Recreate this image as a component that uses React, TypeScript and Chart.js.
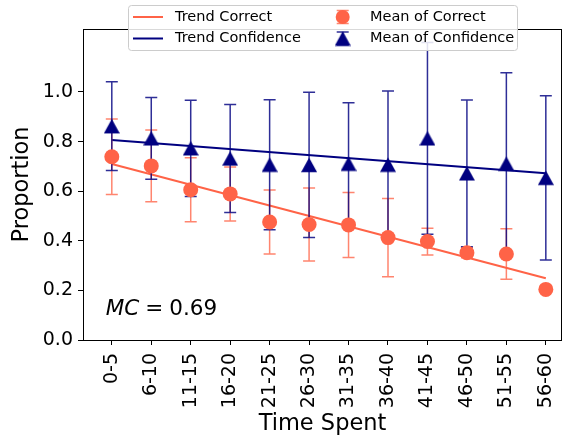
import React, { useEffect, useRef } from 'react';
import { Chart, registerables } from 'chart.js';

Chart.register(...registerables);

const categories = ['0-5', '6-10', '11-15', '16-20', '21-25', '26-30', '31-35', '36-40', '41-45', '46-50', '51-55', '56-60'];
const correctMean = [0.739, 0.702, 0.606, 0.589, 0.476, 0.466, 0.464, 0.413, 0.397, 0.352, 0.347, 0.204];
const correctStd = [0.152, 0.145, 0.129, 0.109, 0.129, 0.147, 0.131, 0.158, 0.054, 0.02, 0.102, 0];
const confidenceMean = [0.862, 0.813, 0.773, 0.732, 0.707, 0.706, 0.711, 0.707, 0.813, 0.672, 0.711, 0.654];
const confidenceStd = [0.179, 0.165, 0.194, 0.218, 0.262, 0.293, 0.246, 0.297, 0.387, 0.296, 0.367, 0.331];
const trendCorrectEnds = [0.71, 0.249];
const trendConfidenceEnds = [0.806, 0.672];
const yTicks = [0, 0.2, 0.4, 0.6, 0.8, 1.0];
const mcName = 'MC';
const mcValue = '0.69';

const TOMATO = '#ff6347';
const NAVY = '#000080';
const TOMATO_BAR = 'rgba(255,99,71,0.78)';
const NAVY_BAR = 'rgba(0,0,128,0.82)';
const FONT = "'DejaVu Sans', sans-serif";

function makeTriangle(): HTMLCanvasElement {
  const c = document.createElement('canvas');
  c.width = 16;
  c.height = 16;
  const ctx = c.getContext('2d')!;
  ctx.fillStyle = NAVY;
  ctx.beginPath();
  ctx.moveTo(8, 0.75);
  ctx.lineTo(16, 15.25);
  ctx.lineTo(0, 15.25);
  ctx.closePath();
  ctx.fill();
  return c;
}

function drawErrBar(ctx: CanvasRenderingContext2D, px: number, top: number, bot: number, cap: number) {
  ctx.beginPath();
  ctx.moveTo(px, top);
  ctx.lineTo(px, bot);
  ctx.moveTo(px - cap, top);
  ctx.lineTo(px + cap, top);
  ctx.moveTo(px - cap, bot);
  ctx.lineTo(px + cap, bot);
  ctx.stroke();
}

// keep the plot area flush to the right edge like the reference
const areaPlugin = {
  id: 'areaFix',
  afterLayout(chart: any) {
    const right = chart.width - 1;
    const x = chart.scales.x;
    chart.chartArea.right = right;
    chart.chartArea.width = right - chart.chartArea.left;
    x.right = right;
    x.width = right - x.left;
    x.configure();
  },
};

const errorBarPlugin = {
  id: 'errorBars',
  beforeDatasetDraw(chart: any, args: any) {
    if (args.index !== 1) return;
    const { ctx, chartArea, scales } = chart;
    const x = scales.x;
    const y = scales.y;
    ctx.save();
    ctx.beginPath();
    ctx.rect(chartArea.left, chartArea.top, chartArea.right - chartArea.left, chartArea.bottom - chartArea.top);
    ctx.clip();
    ctx.lineWidth = 1.5;
    const draw = (means: number[], stds: number[], color: string) => {
      ctx.strokeStyle = color;
      means.forEach((m, i) => {
        const s = stds[i];
        if (!s) return;
        drawErrBar(ctx, x.getPixelForValue(i), y.getPixelForValue(m + s), y.getPixelForValue(m - s), 6);
      });
    };
    draw(correctMean, correctStd, TOMATO_BAR);
    draw(confidenceMean, confidenceStd, NAVY_BAR);
    ctx.restore();
  },
};

const framePlugin = {
  id: 'frame',
  afterDatasetsDraw(chart: any) {
    const { ctx, chartArea } = chart;
    ctx.save();
    ctx.strokeStyle = '#000';
    ctx.lineWidth = 1;
    ctx.strokeRect(chartArea.left + 0.5, chartArea.top + 0.5, chartArea.right - chartArea.left - 1, chartArea.bottom - chartArea.top);
    const bx = chartArea.left + 22.7;
    const by = chartArea.bottom - 25;
    ctx.fillStyle = '#000';
    ctx.textBaseline = 'alphabetic';
    ctx.font = `oblique 21.5px ${FONT}`;
    ctx.fillText(mcName, bx, by);
    const w1 = ctx.measureText(mcName).width;
    ctx.font = `21.5px ${FONT}`;
    const eqX = bx + w1 + 6;
    ctx.fillText('=', eqX, by);
    const w2 = ctx.measureText('=').width;
    ctx.fillText(mcValue, eqX + w2 + 6, by);
    ctx.restore();
  },
};

const legendPlugin = {
  id: 'customLegend',
  afterDraw(chart: any) {
    const ctx: CanvasRenderingContext2D = chart.ctx;
    const ds = chart.data.datasets;
    const bx = 128.5, by = 5.5, bw = 389, bh = 45, r = 3;
    ctx.save();
    ctx.beginPath();
    ctx.moveTo(bx + r, by);
    ctx.lineTo(bx + bw - r, by);
    ctx.quadraticCurveTo(bx + bw, by, bx + bw, by + r);
    ctx.lineTo(bx + bw, by + bh - r);
    ctx.quadraticCurveTo(bx + bw, by + bh, bx + bw - r, by + bh);
    ctx.lineTo(bx + r, by + bh);
    ctx.quadraticCurveTo(bx, by + bh, bx, by + bh - r);
    ctx.lineTo(bx, by + r);
    ctx.quadraticCurveTo(bx, by, bx + r, by);
    ctx.closePath();
    ctx.fillStyle = 'rgba(255,255,255,0.85)';
    ctx.fill();
    ctx.strokeStyle = '#cccccc';
    ctx.lineWidth = 1;
    ctx.stroke();

    const rows = [17, 38.5];
    ctx.font = `14.5px ${FONT}`;
    ctx.fillStyle = '#000';
    ctx.textBaseline = 'middle';
    const lineItems = [ds[2], ds[3]];
    lineItems.forEach((d: any, i: number) => {
      ctx.strokeStyle = d.borderColor;
      ctx.lineWidth = 2;
      ctx.beginPath();
      ctx.moveTo(133, rows[i]);
      ctx.lineTo(163, rows[i]);
      ctx.stroke();
      ctx.fillText(d.label, 175, rows[i]);
    });
    const mx = 342.7;
    ctx.lineWidth = 1.5;
    ctx.strokeStyle = TOMATO_BAR;
    drawErrBar(ctx, mx, rows[0] - 6.5, rows[0] + 6.5, 6);
    ctx.fillStyle = TOMATO;
    ctx.beginPath();
    ctx.arc(mx, rows[0], 7, 0, Math.PI * 2);
    ctx.fill();
    ctx.strokeStyle = NAVY_BAR;
    drawErrBar(ctx, mx, rows[1] - 6.5, rows[1] + 6.5, 6);
    const tri = ds[1].pointStyle as HTMLCanvasElement;
    ctx.drawImage(tri, mx - 8, rows[1] - 8);
    ctx.fillStyle = '#000';
    ctx.fillText(ds[0].label, 370, rows[0]);
    ctx.fillText(ds[1].label, 370, rows[1]);
    ctx.restore();
  },
};

export default function App() {
  const ref = useRef<HTMLCanvasElement>(null);
  useEffect(() => {
    document.body.style.margin = '0';
    const tri = makeTriangle();
    const last = categories.length - 1;
    const chart = new Chart(ref.current!, {
      type: 'scatter',
      data: {
        datasets: [
          {
            label: 'Mean of Correct',
            data: correctMean.map((v, i) => ({ x: i, y: v })),
            pointStyle: 'circle',
            pointRadius: 7.5,
            pointBackgroundColor: TOMATO,
            pointBorderWidth: 0,
            borderWidth: 0,
            showLine: false,
          },
          {
            label: 'Mean of Confidence',
            data: confidenceMean.map((v, i) => ({ x: i, y: v })),
            pointStyle: tri as any,
            pointRadius: 8,
            pointBorderWidth: 0,
            borderWidth: 0,
            showLine: false,
          },
          {
            label: 'Trend Correct',
            data: [{ x: 0, y: trendCorrectEnds[0] }, { x: last, y: trendCorrectEnds[1] }],
            showLine: true,
            borderColor: TOMATO,
            borderWidth: 2,
            pointRadius: 0,
          },
          {
            label: 'Trend Confidence',
            data: [{ x: 0, y: trendConfidenceEnds[0] }, { x: last, y: trendConfidenceEnds[1] }],
            showLine: true,
            borderColor: NAVY,
            borderWidth: 2,
            pointRadius: 0,
          },
        ] as any,
      },
      options: {
        animation: false,
        responsive: false,
        devicePixelRatio: 1,
        layout: { padding: { top: 29, right: 1, left: 0, bottom: 0 } },
        plugins: {
          legend: { display: false },
          tooltip: { enabled: false },
        },
        scales: {
          x: {
            type: 'linear',
            min: -0.73,
            max: 11.41,
            border: { display: false },
            grid: { drawOnChartArea: false, drawTicks: true, tickLength: 5, color: '#000', lineWidth: 1 },
            afterBuildTicks: (scale: any) => {
              scale.ticks = categories.map((_, i) => ({ value: i }));
            },
            afterFit: (scale: any) => {
              scale.height = 96;
              scale.paddingLeft = 0;
              scale.paddingRight = 0;
            },
            ticks: {
              autoSkip: false,
              minRotation: 90,
              maxRotation: 90,
              padding: 8,
              color: '#000',
              font: { family: FONT, size: 19 },
              callback: (v: any) => categories[Math.round(Number(v))] ?? '',
            },
            title: {
              display: true,
              text: 'Time Spent',
              color: '#000',
              font: { family: FONT, size: 22.5, lineHeight: 1 },
              padding: { top: 0, bottom: 1 },
            },
          },
          y: {
            type: 'linear',
            min: 0,
            max: 1.254,
            border: { display: false },
            grid: { drawOnChartArea: false, drawTicks: true, tickLength: 5, color: '#000', lineWidth: 1 },
            afterBuildTicks: (scale: any) => {
              scale.ticks = yTicks.map((v) => ({ value: v }));
            },
            afterFit: (scale: any) => {
              scale.width = 83;
              scale.paddingTop = 0;
              scale.paddingBottom = 0;
            },
            ticks: {
              padding: 5,
              color: '#000',
              font: { family: FONT, size: 19 },
              callback: (v: any) => Number(v).toFixed(1),
            },
            title: {
              display: true,
              text: 'Proportion',
              color: '#000',
              font: { family: FONT, size: 22.5, lineHeight: 1 },
              padding: { top: 11, bottom: 0 },
            },
          },
        },
      },
      plugins: [areaPlugin, errorBarPlugin, framePlugin, legendPlugin],
    });
    return () => chart.destroy();
  }, []);
  return (
    <div style={{ width: 563, height: 436 }}>
      <canvas ref={ref} width={563} height={436} style={{ width: 563, height: 436, display: 'block' }} />
    </div>
  );
}
